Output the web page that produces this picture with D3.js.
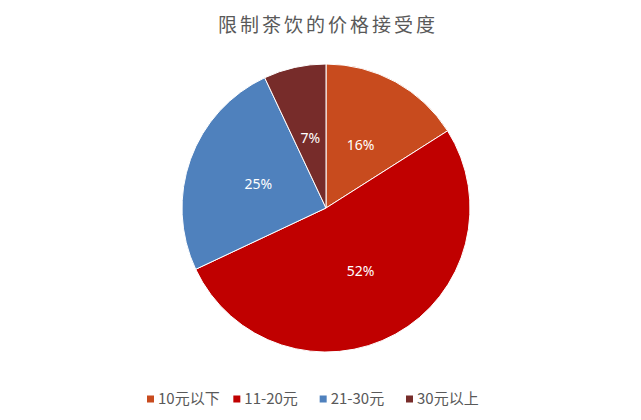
<!DOCTYPE html>
<html>
<head>
<meta charset="utf-8">
<script src="https://cdn.jsdelivr.net/npm/d3@7"></script>
<style>
  body { margin: 0; background: #fff; }
  svg { display: block; }
</style>
</head>
<body>
<div id="chart"></div>
<script>
// data
const categories = ['10元以下', '11-20元', '21-30元', '30元以上'];
const shares = [16, 52, 25, 7];
const colors = ['#C84B1E', '#C00000', '#4F81BD', '#772C2A'];
const title = '限制茶饮的价格接受度';

const width = 641, height = 420;
const cx = 326, cy = 208, radius = 144;

const svg = d3.select('#chart').append('svg')
    .attr('width', width)
    .attr('height', height);

// title
svg.append('text')
    .attr('x', cx + 2)
    .attr('y', 32)
    .attr('text-anchor', 'middle')
    .style('font-family', '"Noto Sans CJK SC", sans-serif')
    .style('font-size', '19px')
    .style('letter-spacing', '3px')
    .style('fill', '#595959')
    .text(title);

const data = categories.map((c, i) => ({ name: c, value: shares[i], color: colors[i] }));

const pie = d3.pie().value(d => d.value).sort(null);
const arc = d3.arc().innerRadius(0).outerRadius(radius);
const labelArc = d3.arc().innerRadius(radius * 0.5).outerRadius(radius * 0.5);

const g = svg.append('g').attr('transform', `translate(${cx},${cy})`);

const arcs = pie(data);

g.selectAll('path.slice')
    .data(arcs)
    .join('path')
    .classed('slice', true)
    .attr('d', arc)
    .attr('fill', d => d.data.color)
    .attr('stroke', '#fff')
    .attr('stroke-width', 1);

g.selectAll('text.label')
    .data(arcs)
    .join('text')
    .classed('label', true)
    .attr('transform', d => `translate(${labelArc.centroid(d)})`)
    .attr('text-anchor', 'middle')
    .attr('dy', '0.35em')
    .style('font-family', '"Noto Sans", sans-serif')
    .style('font-size', '14px')
    .style('fill', '#fff')
    .text(d => d3.format('.0%')(d.data.value / 100));

// legend
const legendX = d3.scalePoint().domain(categories).range([147, 406]);
const legend = svg.append('g')
    .selectAll('g.item')
    .data(data)
    .join('g')
    .classed('item', true)
    .attr('transform', d => `translate(${legendX(d.name)},399)`);

legend.append('rect')
    .attr('x', 0)
    .attr('y', -3.5)
    .attr('width', 7)
    .attr('height', 7)
    .attr('fill', d => d.color);

legend.append('text')
    .attr('x', 11)
    .attr('dy', '0.36em')
    .style('font-family', '"Noto Sans CJK SC", sans-serif')
    .style('font-size', '15px')
    .style('fill', '#595959')
    .text(d => d.name);
</script>
</body>
</html>
